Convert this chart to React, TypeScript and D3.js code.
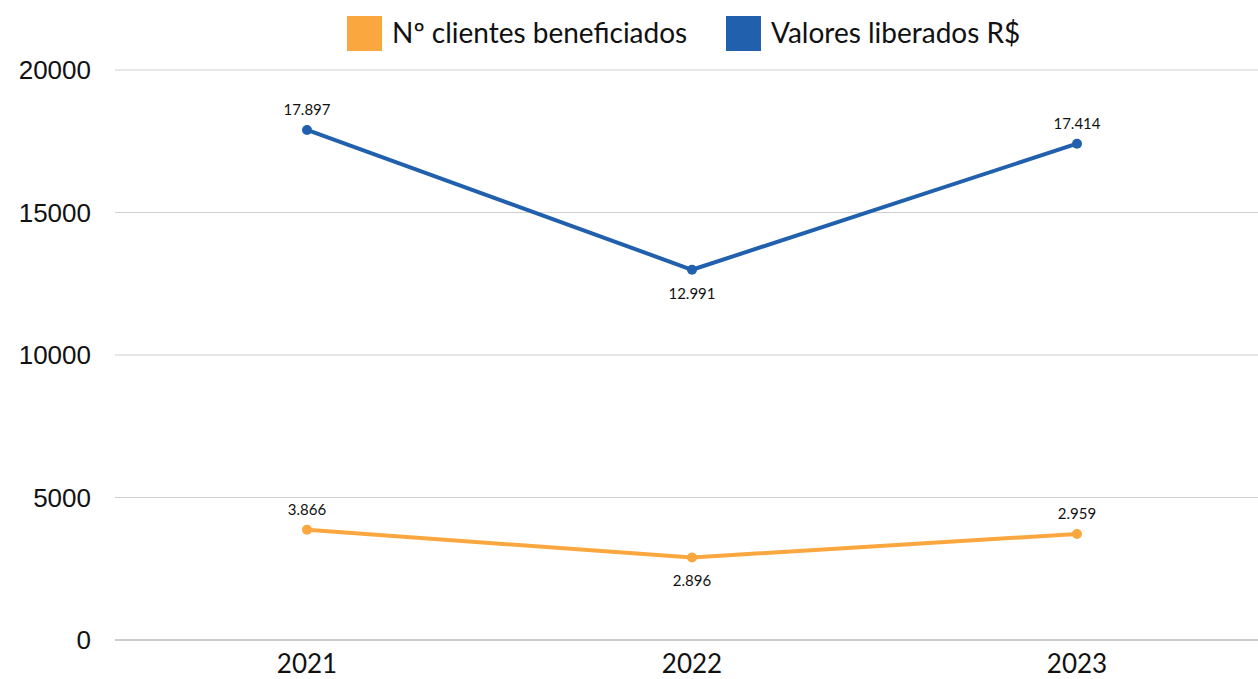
import React from "react";
import * as d3 from "d3";

const years = ["2021", "2022", "2023"];
const clientes = [3866, 2896, 3720];
const clientesLabels = ["3.866", "2.896", "2.959"];
const valores = [17897, 12991, 17414];
const valoresLabels = ["17.897", "12.991", "17.414"];
const yTicks = [0, 5000, 10000, 15000, 20000];
const labelAbove = [true, false, true];

const W = 1258, H = 679;
const FONT = "Lato, 'Open Sans', sans-serif";

export default function App() {
  const x = d3.scalePoint<string>().domain(years).range([307, 1077]);
  const y = d3.scaleLinear().domain([0, 20000]).range([640, 70]);
  const line = d3.line<number>().x((_, i) => x(years[i])!).y((d) => y(d));
  const series = [
    { name: "Nº clientes beneficiados", color: "#F9A73E", values: clientes, labels: clientesLabels },
    { name: "Valores liberados R$", color: "#2160AD", values: valores, labels: valoresLabels },
  ];
  const legendX = [347, 726];
  return (
    <svg width={W} height={H} style={{ position: "absolute", left: 0, top: 0, background: "#fff" }}>
      {yTicks.map((t) => (
        <g key={t}>
          <line x1={115} x2={1258} y1={y(t)} y2={y(t)} stroke={t === 0 ? "#9a9a9a" : "#cfcfcf"} strokeWidth={1} />
          <text x={91} y={y(t) + 9} textAnchor="end" fontSize={26} fontFamily="'Liberation Sans', Arial, sans-serif" fill="#111">
            {t}
          </text>
        </g>
      ))}
      {years.map((yr) => (
        <text key={yr} x={x(yr)} y={673} textAnchor="middle" fontSize={26} fontFamily={FONT} fill="#111">
          {yr}
        </text>
      ))}
      {series.map((s, si) => (
        <g key={s.name}>
          <path d={line(s.values)!} fill="none" stroke={s.color} strokeWidth={4} strokeLinejoin="round" />
          {s.values.map((v, i) => (
            <g key={i}>
              <circle cx={x(years[i])} cy={y(v)} r={5} fill={s.color} />
              <text
                x={x(years[i])}
                y={labelAbove[i] ? y(v) - 15 : y(v) + 29}
                textAnchor="middle"
                fontSize={15}
                fontFamily={FONT}
                fill="#111"
              >
                {s.labels[i]}
              </text>
            </g>
          ))}
          <rect x={legendX[si]} y={16} width={35} height={35} fill={s.color} />
          <text x={legendX[si] + 45} y={43} fontSize={28} fontFamily={FONT} fill="#111">
            {s.name}
          </text>
        </g>
      ))}
    </svg>
  );
}
